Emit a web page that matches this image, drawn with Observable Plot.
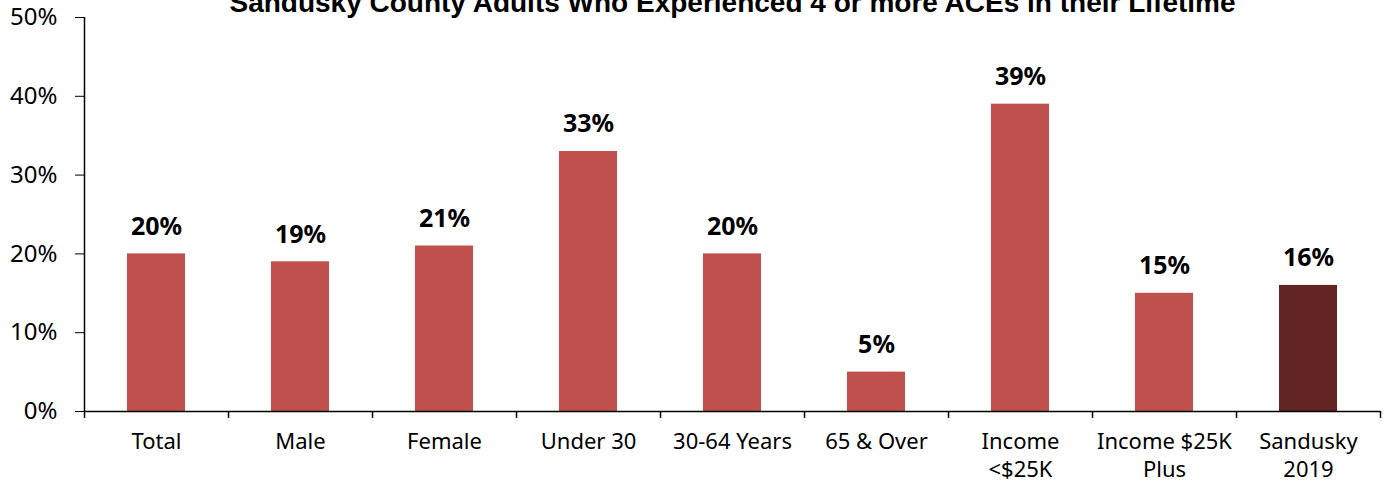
<!DOCTYPE html>
<html><head><meta charset="utf-8">
<script src="https://cdn.jsdelivr.net/npm/d3@7"></script>
<script src="https://cdn.jsdelivr.net/npm/@observablehq/plot@0.6"></script>
<style>
body{margin:0;background:#fff;}
#chart{width:1390px;height:482px;overflow:hidden;}
</style></head>
<body><div id="chart"></div>
<script>
const title = "Sandusky County Adults Who Experienced 4 or more ACEs in their Lifetime";
const categories = ["Total","Male","Female","Under 30","30-64 Years","65 & Over","Income\n<$25K","Income $25K\nPlus","Sandusky\n2019"];
const values = [20,19,21,33,20,5,39,15,16];
const highlight = ["Sandusky\n2019"];
const yTicks = [0,10,20,30,40,50];

const data = categories.map((c,i)=>({cat:c, value:values[i], hi: highlight.includes(c)}));
const font = "'Noto Sans', 'Open Sans', sans-serif";

const chart = Plot.plot({
  width: 1390, height: 482,
  marginTop: 17, marginBottom: 71, marginLeft: 84, marginRight: 10,
  style: {fontFamily: font, fontSize: "22px", color: "#000", background: "#fff", overflow: "visible"},
  x: {domain: categories, paddingInner: 0.6, paddingOuter: 0.3, label: null},
  y: {domain: [0,50], label: null},
  marks: [
    Plot.barY(data, {x:"cat", y:"value", fill: d=> d.hi ? "#632523" : "#C0504D"}),
    Plot.text(data, {x:"cat", y:"value", text: d=>d.value+"%", dy:-19, lineAnchor:"bottom", fontWeight:"bold", fontSize:25, fill:"#000"}),
    Plot.axisY({ticks: yTicks, tickFormat: d=>d+"%", tickSize: 9, tickPadding: 18, label: null, fontSize: 24, stroke:"#000"}),
    Plot.axisX({tickSize: 0, tickPadding: 18, label: null, fontSize: 22, lineHeight: 1.27}),
    // axis lines
    Plot.ruleY([0], {stroke:"#000", strokeWidth:1.5}),
    Plot.ruleX(categories.slice(0,1), {x: d=>d, y1: 0, y2: 50, dx: -72, stroke:"#000", strokeWidth:1.5}),
    // category boundary ticks
    Plot.ruleX(categories, {x: d=>d, y1: 0, y2: 0, insetBottom: -7, dx: -72, stroke:"#000", strokeWidth:1.5}),
    Plot.ruleX(categories.slice(-1), {x: d=>d, y1: 0, y2: 0, insetBottom: -7, dx: 72, stroke:"#000", strokeWidth:1.5}),
    Plot.text([title], {frameAnchor:"top", dy:-6, lineAnchor:"bottom", text: d=>d, fontWeight:"bold", fontSize:28, fontFamily:"'Liberation Sans', Arial, sans-serif", fill:"#000"})
  ]
});
document.getElementById("chart").appendChild(chart);
</script></body></html>
